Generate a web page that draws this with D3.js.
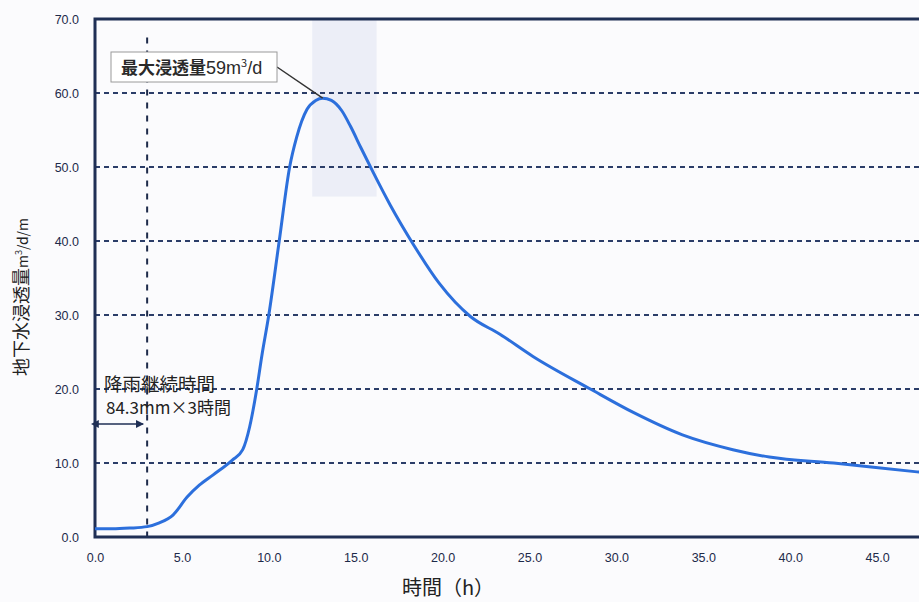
<!DOCTYPE html>
<html>
<head>
<meta charset="utf-8">
<script src="https://cdn.jsdelivr.net/npm/d3@7"></script>
<style>
  body { margin: 0; background: #fbfbfd; }
  svg { display: block; }
  .tick text { font-family: "Liberation Sans", Arial, sans-serif; font-size: 12.5px; fill: #1d2a4a; }
  .jp { font-family: "Noto Sans CJK JP", sans-serif; }
</style>
</head>
<body>
<script>
// hours since rain started / infiltration m3/d/m
const hours = [0, 1, 2, 3, 3.7, 4.5, 5.3, 6, 6.8, 7.9, 8.5, 8.9, 9.3, 9.6, 10, 10.6, 11.2, 11.6, 12.2, 12.7, 13.1,
    13.6, 14.2, 14.7, 15.3, 16, 17, 18.3, 19.8, 21.6, 23.3, 25.2, 28.5, 31, 33.8, 36.7, 38.8, 42.5, 47.3, 50];
const infiltration = [1.1, 1.1, 1.2, 1.4, 1.9, 3.0, 5.4, 7.0, 8.4, 10.4, 11.8, 14.9, 19.9, 24.5, 30, 40, 50, 54, 57.8, 59, 59.3,
    59.0, 57.6, 55.5, 52.6, 49.3, 44.8, 39.6, 34.3, 29.8, 27.4, 24.4, 20, 16.8, 13.8, 11.8, 10.8, 10.0, 8.8, 8.2];

const yTicks = [0, 10, 20, 30, 40, 50, 60, 70];
const xTicks = [0, 5, 10, 15, 20, 25, 30, 35, 40, 45];
const gridLevels = [10, 20, 30, 40, 50, 60];
const rainEnd = 3;          // 降雨継続時間 3h
const peak = { t: 13.1, v: 59.3 };
const shadedBand = [12.5, 16.2, 46];   // faint band in the scan (from, to, down to value)

const width = 919, height = 602;
const navy = "#1f2f55";

const svg = d3.select("body").append("svg")
    .attr("width", width)
    .attr("height", height);

const x = d3.scaleLinear().domain([0, 50]).range([95, 964]);
const y = d3.scaleLinear().domain([0, 70]).range([537, 19]);

// faint shaded band behind the peak
svg.append("rect")
    .attr("x", x(shadedBand[0]))
    .attr("y", y(70))
    .attr("width", x(shadedBand[1]) - x(shadedBand[0]))
    .attr("height", y(shadedBand[2]) - y(70))
    .attr("fill", "#eceef7");

// dashed grid
svg.append("g")
    .selectAll("line")
    .data(gridLevels)
    .enter()
    .append("line")
    .attr("x1", x(0))
    .attr("x2", width)
    .attr("y1", d => y(d))
    .attr("y2", d => y(d))
    .attr("stroke", "#2b3d68")
    .attr("stroke-width", 2)
    .attr("stroke-dasharray", "5,4");

// end of rainfall
svg.append("line")
    .attr("x1", x(rainEnd))
    .attr("x2", x(rainEnd))
    .attr("y1", y(67.5))
    .attr("y2", y(0))
    .attr("stroke", "#1d2a4a")
    .attr("stroke-width", 2)
    .attr("stroke-dasharray", "6,7");

// axes
const yAxis = svg.append("g")
    .attr("transform", `translate(${x(0)},0)`)
    .call(d3.axisLeft(y).tickValues(yTicks).tickFormat(d3.format(".1f")).tickSize(0).tickPadding(16));
yAxis.select(".domain").remove();

const xAxis = svg.append("g")
    .attr("transform", `translate(0,${y(0)})`)
    .call(d3.axisBottom(x).tickValues(xTicks).tickFormat(d3.format(".1f")).tickSize(0).tickPadding(16));
xAxis.select(".domain").remove();

// frame (right side is off the page)
svg.append("path")
    .attr("d", `M${width},${y(70)}H${x(0)}V${y(0)}H${width}`)
    .attr("fill", "none")
    .attr("stroke", navy)
    .attr("stroke-width", 3);

// the curve
const line = d3.line()
    .x((d, i) => x(hours[i]))
    .y(d => y(d))
    .curve(d3.curveMonotoneX);

svg.append("path")
    .datum(infiltration)
    .attr("d", line)
    .attr("fill", "none")
    .attr("stroke", "#2c6fdc")
    .attr("stroke-width", 3);

// peak callout
svg.append("line")
    .attr("x1", 277)
    .attr("y1", 67)
    .attr("x2", x(peak.t))
    .attr("y2", y(peak.v))
    .attr("stroke", "#333")
    .attr("stroke-width", 1.5);

svg.append("rect")
    .attr("x", 111)
    .attr("y", 52)
    .attr("width", 166)
    .attr("height", 30)
    .attr("fill", "#fff")
    .attr("stroke", "#9a9a9a")
    .attr("stroke-width", 1);

const peakText = svg.append("text")
    .attr("class", "jp")
    .attr("x", 121)
    .attr("y", 74)
    .attr("font-size", 17)
    .attr("font-weight", "bold")
    .attr("fill", "#2a2a2a");
peakText.append("tspan").text("最大浸透量");
peakText.append("tspan").attr("font-family", "Liberation Sans, Arial, sans-serif").attr("font-size", 18).attr("font-weight", "normal").text("59m");
peakText.append("tspan").attr("font-size", 11).attr("dy", -7).attr("font-weight", "normal").text("3");
peakText.append("tspan").attr("dy", 7).attr("font-family", "Liberation Sans, Arial, sans-serif").attr("font-size", 18).attr("font-weight", "normal").text("/d");

// rainfall duration note
svg.append("text")
    .attr("class", "jp")
    .attr("x", 104)
    .attr("y", 391)
    .attr("font-size", 18.5)
    .attr("fill", "#222")
    .text("降雨継続時間");

svg.append("text")
    .attr("class", "jp")
    .attr("x", 106)
    .attr("y", 414)
    .attr("font-size", 17)
    .attr("fill", "#222")
    .text("84.3mm×3時間");

const defs = svg.append("defs");
["start", "end"].forEach(k => {
    defs.append("marker")
        .attr("id", "arr-" + k)
        .attr("viewBox", "0 0 10 10")
        .attr("refX", k == "end" ? 9 : 1)
        .attr("refY", 5)
        .attr("markerWidth", 8)
        .attr("markerHeight", 8)
        .attr("markerUnits", "userSpaceOnUse")
        .attr("orient", "auto-start-reverse")
        .append("path")
        .attr("d", "M0,0L10,5L0,10z")
        .attr("fill", navy);
});

svg.append("line")
    .attr("x1", x(0) + 3)
    .attr("x2", x(rainEnd) - 4)
    .attr("y1", 424)
    .attr("y2", 424)
    .attr("stroke", navy)
    .attr("stroke-width", 1.5)
    .attr("marker-start", "url(#arr-start)")
    .attr("marker-end", "url(#arr-end)");

// axis titles
svg.append("text")
    .attr("class", "jp")
    .attr("x", 448)
    .attr("y", 595)
    .attr("text-anchor", "middle")
    .attr("font-size", 20)
    .attr("fill", "#222")
    .text("時間（h）");

const yTitle = svg.append("text")
    .attr("class", "jp")
    .attr("transform", "translate(28,297) rotate(-90)")
    .attr("text-anchor", "middle")
    .attr("font-size", 18)
    .attr("fill", "#222");
yTitle.append("tspan").text("地下水浸透量");
yTitle.append("tspan").attr("font-size", 14).text("m");
yTitle.append("tspan").attr("font-size", 9).attr("dy", -6).text("3");
yTitle.append("tspan").attr("font-size", 14).attr("dy", 6).text("/d/m");
</script>
</body>
</html>
